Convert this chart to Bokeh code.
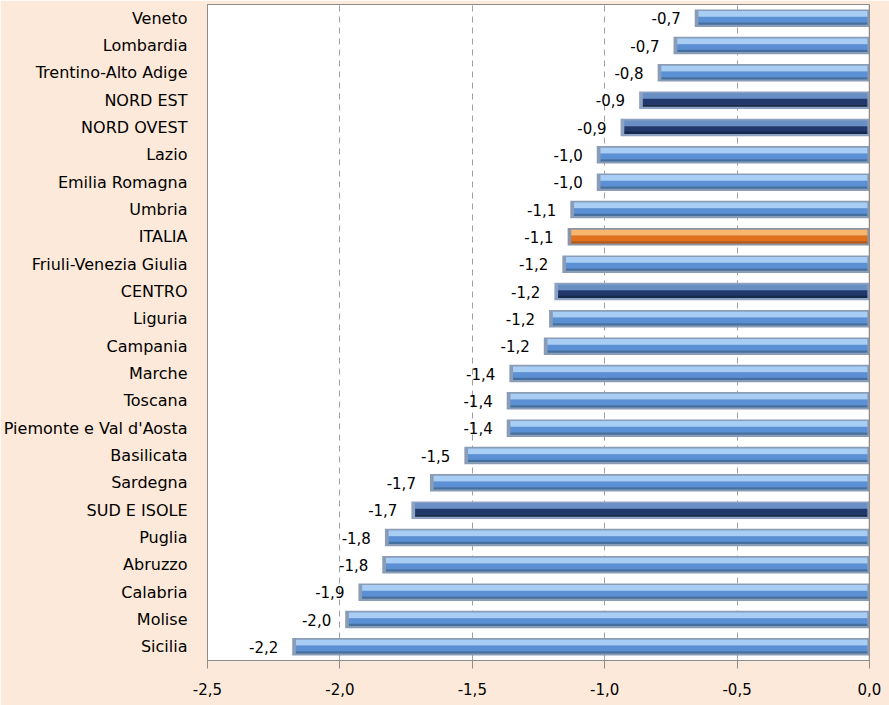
from bokeh.plotting import figure
from bokeh.models import ColumnDataSource, Range1d, FixedTicker, Span, CustomJSTickFormatter
from bokeh.embed import file_html
from bokeh.resources import INLINE
from bokeh.core.properties import value

regions = ["Veneto", "Lombardia", "Trentino-Alto Adige", "NORD EST", "NORD OVEST",
           "Lazio", "Emilia Romagna", "Umbria", "ITALIA", "Friuli-Venezia Giulia",
           "CENTRO", "Liguria", "Campania", "Marche", "Toscana",
           "Piemonte e Val d'Aosta", "Basilicata", "Sardegna", "SUD E ISOLE",
           "Puglia", "Abruzzo", "Calabria", "Molise", "Sicilia"]
variation = [-0.66, -0.74, -0.80, -0.87, -0.94,
             -1.03, -1.03, -1.13, -1.14, -1.16,
             -1.19, -1.21, -1.23, -1.36, -1.37,
             -1.37, -1.53, -1.66, -1.73,
             -1.83, -1.84, -1.93, -1.98, -2.18]
x_ticks = [-2.5, -2.0, -1.5, -1.0, -0.5, 0.0]

macro_areas = {"NORD EST", "NORD OVEST", "CENTRO", "SUD E ISOLE"}
national = {"ITALIA"}

palettes = {
    "blue":   dict(edge="#8A9CB6", top="#A8CEF5", mid="#5B90D4", bot="#44709F"),
    "navy":   dict(edge="#8EA2C4", top="#6A8FC4", mid="#20396A", bot="#142849"),
    "orange": dict(edge="#8C94A2", top="#F8B66C", mid="#E0701C", bot="#B65812"),
}

n = len(regions)
ys = [n - 1 - i for i in range(n)]
kinds = ["navy" if r in macro_areas else "orange" if r in national else "blue" for r in regions]

p = figure(frame_width=662, frame_height=656, output_backend="svg", toolbar_location=None,
           x_range=Range1d(-2.5, 0.0), y_range=Range1d(-0.5, n - 0.5),
           min_border_left=206, min_border_right=21, min_border_top=4, min_border_bottom=45,
           background_fill_color="white", border_fill_color="#FDE9D9",
           outline_line_color="#8C8C8C", outline_line_width=1)

# grid
p.xgrid.ticker = FixedTicker(ticks=x_ticks)
p.xgrid.grid_line_color = "#A0A0A0"
p.xgrid.grid_line_dash = "6 5"
p.ygrid.grid_line_color = None

p.add_layout(Span(location=0.0, dimension="height", line_color="#8C8C8C", line_width=1.5))

# bars with bevel-like layers
layers = [("edge", 0.0, 0.64, 0.0, 0.0),
          ("top", 0.15, 0.22, 0.014, 0.008),
          ("mid", -0.06, 0.22, 0.014, 0.008),
          ("bot", -0.20, 0.08, 0.014, 0.008)]
for name, off, h, linset, rinset in layers:
    src = ColumnDataSource(dict(
        y=[y + off for y in ys],
        left=[v + linset for v in variation],
        right=[0.0 - rinset for _ in variation],
        color=[palettes[k][name] for k in kinds],
    ))
    p.hbar(y="y", left="left", right="right", height=h, source=src,
           fill_color="color", line_color=None)

# value labels
lab = ColumnDataSource(dict(x=variation, y=ys,
                            t=[f"{v:.1f}".replace(".", ",") for v in variation]))
p.text(x="x", y="y", text="t", source=lab, x_offset=-14, text_align="right",
       text_baseline="middle", text_font=value("DejaVu Sans"), text_font_size="15px",
       text_color="#000000")

# axes
p.xaxis.ticker = FixedTicker(ticks=x_ticks)
p.xaxis.formatter = CustomJSTickFormatter(code="return tick.toFixed(1).replace('.', ',');")
p.xaxis.axis_line_color = "#8C8C8C"
p.xaxis.major_tick_line_color = "#8C8C8C"
p.xaxis.major_tick_out = 8
p.xaxis.major_tick_in = 0
p.xaxis.minor_tick_line_color = None
p.xaxis.major_label_standoff = 14
p.xaxis.major_label_text_font = "DejaVu Sans"
p.xaxis.major_label_text_font_size = "15px"
p.xaxis.major_label_text_color = "#000000"

p.yaxis.ticker = FixedTicker(ticks=ys)
p.yaxis.major_label_overrides = {y: r for y, r in zip(ys, regions)}
p.yaxis.axis_line_color = "#8C8C8C"
p.yaxis.major_tick_line_color = None
p.yaxis.minor_tick_line_color = None
p.yaxis.major_label_standoff = 14
p.yaxis.major_label_text_font = "DejaVu Sans"
p.yaxis.major_label_text_font_size = "16px"
p.yaxis.major_label_text_color = "#000000"

open("out.html", "w").write(file_html(p, INLINE))
